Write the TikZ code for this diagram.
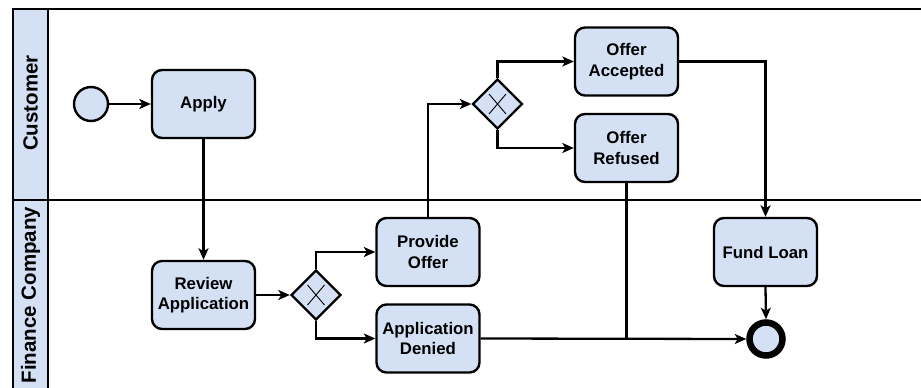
\documentclass[tikz,border=0pt]{standalone}
\usepackage{fontspec}
\setmainfont{Liberation Sans}
\usetikzlibrary{shapes.geometric,arrows.meta}
\definecolor{lblue}{HTML}{D4E1F5}
\begin{document}
\begin{tikzpicture}[x=1pt,y=-1pt,
  task/.style={rectangle, rounded corners=10pt, draw, fill=lblue, line width=2.4pt,
    minimum width=103pt, minimum height=68pt, align=center, inner sep=2pt,
    font=\fontsize{16.8}{20.4}\selectfont\bfseries},
  gw/.style={diamond, draw, fill=lblue, line width=2.4pt, minimum size=50pt, inner sep=0pt},
  arr/.style={line width=2.3pt, -{Stealth[length=11.5pt,width=10pt,inset=3pt]}},
  conn/.style={line width=2.3pt},
  lanelabel/.style={rotate=90, font=\fontsize{20.5}{24}\selectfont\bfseries}]
\useasboundingbox (0,0) rectangle (921,388);
\fill[white] (0,0) rectangle (921,388);
% pool
\draw[line width=2.8pt, fill=lblue] (13,388) -- (13,9) -- (48,9) -- (48,388);
\draw[line width=2.8pt] (48,9) -- (921,9);
\draw[line width=2.8pt] (13,200) -- (921,200);
\node[lanelabel] (lc) at (30.5,103) {Customer};
\node[lanelabel] (lf) at (30.5,295) {Finance Company};
% nodes
\node[circle, draw, fill=lblue, line width=2.4pt, minimum size=34pt, inner sep=0pt] (start) at (91,104) {};
\node[task] (apply) at (203.5,104) {Apply};
\node[task] (review) at (203.5,295) {Review\\Application};
\node[gw] (g1) at (316,295) {};
\node[task] (provide) at (428,252) {Provide\\Offer};
\node[task] (denied) at (428,338.5) {Application\\Denied};
\node[gw] (g2) at (497.5,104) {};
\node[task] (accepted) at (626.5,61.5) {Offer\\Accepted};
\node[task] (refused) at (626.5,148) {Offer\\Refused};
\node[task] (fund) at (765.5,252) {Fund Loan};
\node[circle, draw, fill=lblue, line width=6.5pt, minimum size=33pt, inner sep=0pt] (end) at (766,339) {};
% gateway X marks
\foreach \g in {g1,g2}{
  \draw[line width=0.9pt] ([shift={(-8.5,-10)}]\g.center) -- ([shift={(8.5,10)}]\g.center);
  \draw[line width=0.9pt] ([shift={(-8.5,10)}]\g.center) -- ([shift={(8.5,-10)}]\g.center);
}
% connectors
\draw[arr] (start) -- (apply);
\draw[arr] (apply) -- (review);
\draw[arr] (review) -- (g1);
\draw[arr] (g1.north) |- (provide.west);
\draw[arr] (g1.south) |- (denied.west);
\draw[arr] (provide.north) |- (g2.west);
\draw[arr] (g2.north) |- (accepted.west);
\draw[arr] (g2.south) |- (refused.west);
\draw[arr] (accepted.east) -| (fund.north);
\draw[arr] (denied.east) -- (end.west);
\coordinate (j) at (refused.south |- denied.east);
\draw[conn] (refused.south) -- (j);
\draw[arr] (fund.south) -- (end.north);
\end{tikzpicture}
\end{document}
